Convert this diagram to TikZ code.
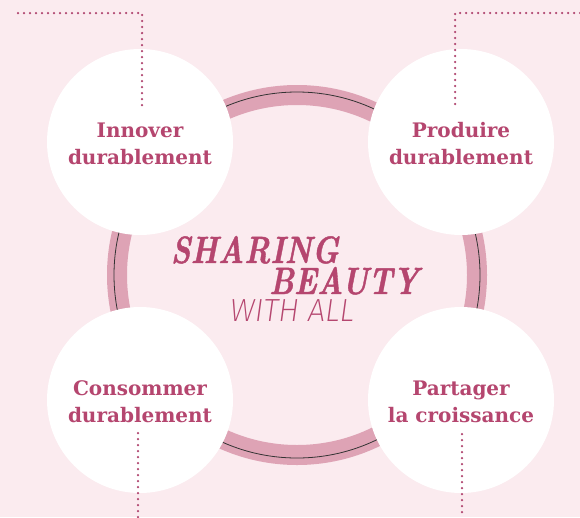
\documentclass[tikz,border=0pt]{standalone}
\usepackage{fontspec}
\newfontfamily\labelfont{DejaVu Serif}
\newfontfamily\thinfont{Fira Sans ExtraLight Italic}
\newfontfamily\titlefont[FakeBold=1.2]{lmroman10-bolditalic.otf}
\definecolor{bg}{HTML}{FBEBEF}
\definecolor{bandpink}{HTML}{DEA3B5}
\definecolor{ink}{HTML}{B5466F}
\definecolor{dotpink}{HTML}{B0456F}
\tikzset{
  disc/.style={circle, fill=white, minimum size=186pt, inner sep=0pt},
  lbl/.style={anchor=base, text=ink, inner sep=0pt, font=\labelfont\bfseries\fontsize{20}{24}\selectfont},
  ttl/.style={anchor=base, text=ink, inner sep=0pt, font=\titlefont\fontsize{38}{38}\selectfont},
  thin/.style={anchor=base, text=ink, inner sep=0pt, font=\thinfont\fontsize{32}{32}\selectfont},
  dots/.style={draw=dotpink, line width=2.5pt, line cap=round, dash pattern=on 0pt off 6pt},
}
\begin{document}
\begin{tikzpicture}[x=1pt,y=-1pt]
\fill[bg] (0,0) rectangle (580,517);
\useasboundingbox (0,0) rectangle (580,517);
% ring
\coordinate (rc) at (297,275);
\draw[bandpink, line width=20pt] (rc) circle[radius=180];
\draw[black!80, line width=0.8pt] (rc) circle[radius=183];
% discs
\node[disc] (c1) at (140,142) {};
\node[disc] (c2) at (461,142) {};
\node[disc] (c3) at (140,400) {};
\node[disc] (c4) at (461,400) {};
% labels
\node[lbl] (l1a) at (140,137) {Innover};
\node[lbl] (l1b) at (140,164) {durablement};
\node[lbl] (l2a) at (461,137) {Produire};
\node[lbl] (l2b) at (461,164) {durablement};
\node[lbl] (l3a) at (140,395) {Consommer};
\node[lbl] (l3b) at (140,422) {durablement};
\node[lbl] (l4a) at (461,395) {Partager};
\node[lbl] (l4b) at (461,422) {la croissance};
% title
\node[ttl] (t1) at (255,263) {\scalebox{0.8}[1]{SHARING}};
\node[ttl] (t2) at (344,294) {\scalebox{0.8}[1]{BEAUTY}};
\node[thin] (t3) at (292,321) {\scalebox{0.97}[1]{WITH ALL}};
% dotted leaders
\coordinate (a0) at (18,13);
\coordinate (a1) at (142,13);
\coordinate (a2) at (142,108);
\coordinate (b0) at (580,13);
\coordinate (b1) at (455,13);
\coordinate (b2) at (455,108);
\coordinate (d0) at (138,433);
\coordinate (d1) at (138,517);
\coordinate (e0) at (462,434);
\coordinate (e1) at (462,517);
\draw[dots] (a0) -- (a1) -- (a2);
\draw[dots] (b0) -- (b1) -- (b2);
\draw[dots] (d0) -- (d1);
\draw[dots] (e0) -- (e1);
\end{tikzpicture}
\end{document}
